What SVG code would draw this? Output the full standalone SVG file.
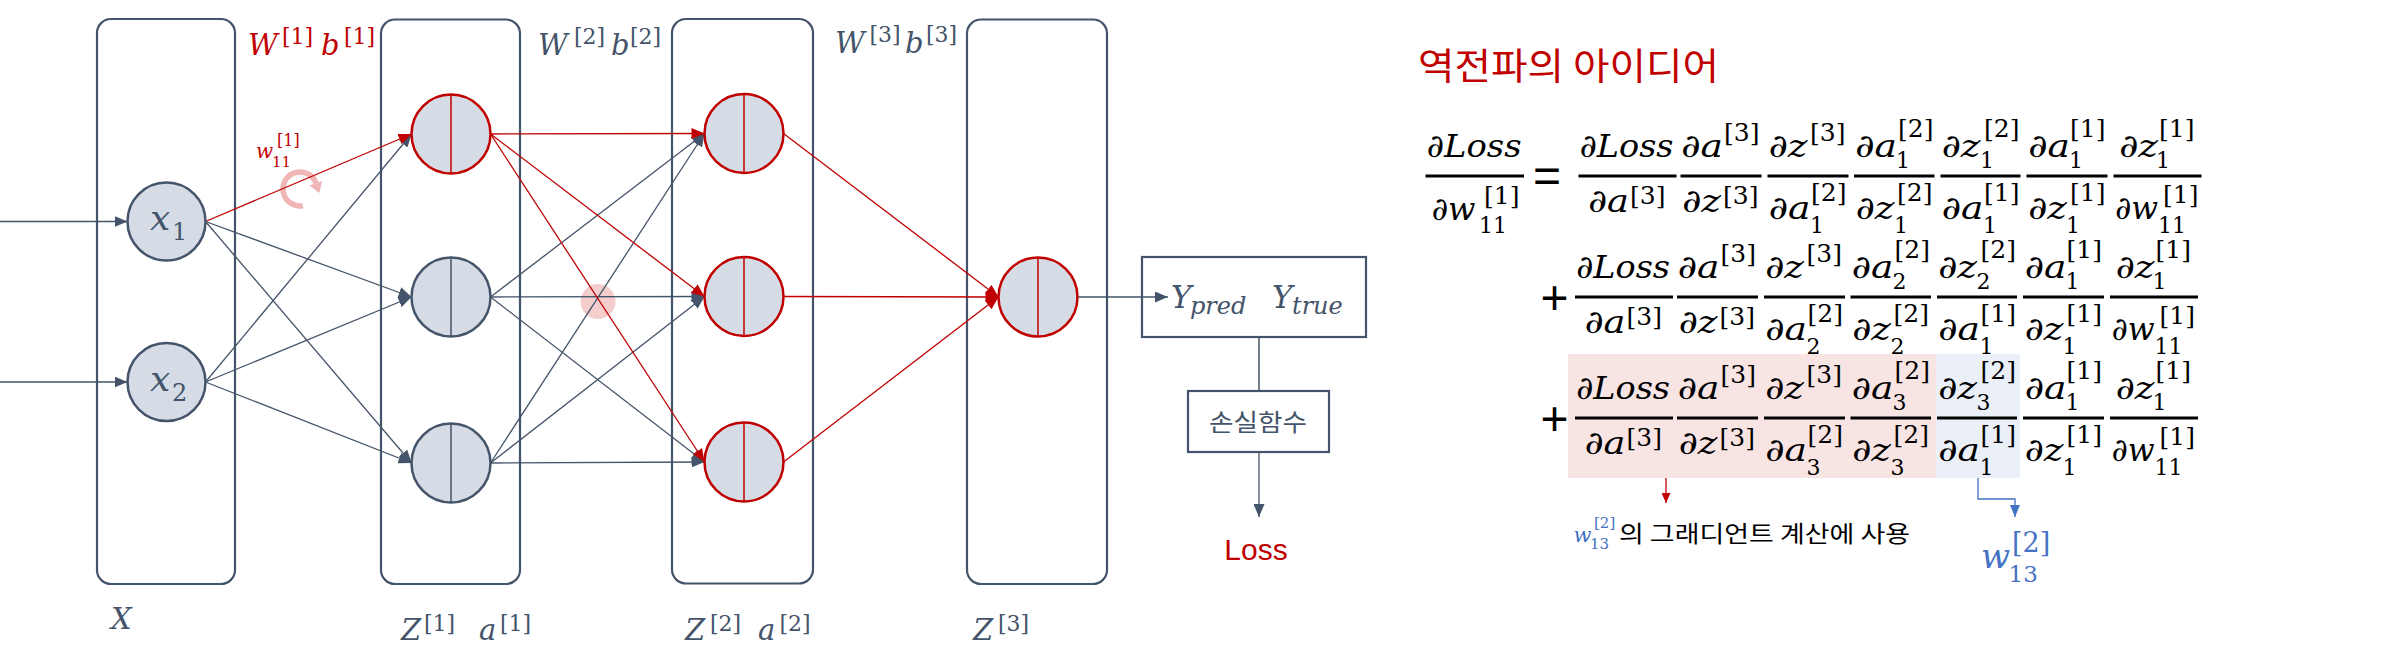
<svg xmlns="http://www.w3.org/2000/svg" width="2402" height="652" viewBox="0 0 2402 652">
<defs>
<style>
.box{fill:none;stroke:#44546a;stroke-width:2.2}
.nd{fill:#d6dce5;stroke:#44546a;stroke-width:2.5}
.nr{fill:#d6dce5;stroke:#c00000;stroke-width:2.5}
.dv{stroke:#44546a;stroke-width:1.5}
.dvr{stroke:#c00000;stroke-width:1.5}
.c{fill:none;stroke:#44546a;stroke-width:1.3;marker-end:url(#ad)}
.r{fill:none;stroke:#c00000;stroke-width:1.3;marker-end:url(#ar)}
.lm{font-family:"DejaVu Serif",serif;font-style:italic;font-size:29px;fill:#44546a}
.ls{font-family:"DejaVu Serif",serif;font-size:22px;fill:#44546a}
.red{fill:#c00000}
.e{font-family:"DejaVu Serif",serif;font-style:italic;font-size:32px;fill:#000}
.es{font-family:"DejaVu Serif",serif;font-size:25px;fill:#000}
.eb{font-family:"DejaVu Serif",serif;font-size:22px;fill:#000}
.bar{stroke:#000;stroke-width:3}
.op{font-family:"Liberation Sans",Arial,sans-serif;font-size:48px;fill:#000;text-anchor:middle}
.kr{font-family:"Noto Sans CJK KR","Noto Sans",sans-serif}
.blue{fill:#4472c4}
</style>
<marker id="ad" markerUnits="userSpaceOnUse" markerWidth="13" markerHeight="11" refX="13" refY="5.5" orient="auto"><path d="M0,0 L13,5.5 L0,11 z" fill="#44546a"/></marker>
<marker id="ar" markerUnits="userSpaceOnUse" markerWidth="13" markerHeight="11" refX="13" refY="5.5" orient="auto"><path d="M0,0 L13,5.5 L0,11 z" fill="#c00000"/></marker>
<marker id="ab" markerUnits="userSpaceOnUse" markerWidth="12" markerHeight="10" refX="12" refY="5" orient="auto"><path d="M0,0 L12,5 L0,10 z" fill="#4472c4"/></marker>
<marker id="ar2" markerUnits="userSpaceOnUse" markerWidth="10" markerHeight="9" refX="10" refY="4.5" orient="auto"><path d="M0,0 L10,4.5 L0,9 z" fill="#c00000"/></marker>
</defs>
<rect width="2402" height="652" fill="#fff"/>

<!-- layer boxes -->
<g id="layer-x"><rect class="box" x="97" y="19" width="138" height="565" rx="14"/></g>
<g id="layer-1"><rect class="box" x="381" y="19.5" width="139" height="564.5" rx="14"/></g>
<g id="layer-2"><rect class="box" x="672" y="19" width="141" height="564.5" rx="14"/></g>
<g id="layer-3"><rect class="box" x="967" y="19.5" width="140" height="564.5" rx="14"/></g>

<!-- decorations -->
<circle cx="598" cy="301.5" r="17.5" fill="#f2c4c4" opacity="0.85"/>
<g id="rotation" opacity="0.85">
<path d="M302.95,205.7 A17,17 0 1 1 316,183.2" fill="none" stroke="#eeaaaa" stroke-width="5.5"/>
<path d="M322.4,180.8 L309.6,185.6 L319.3,193 z" fill="#eeaaaa"/>
</g>

<!-- connectors -->
<g id="connectors">
<path class="c" d="M0,221.5 L127.5,221.5"/>
<path class="c" d="M0,382 L127.5,382"/>
<path class="c" d="M205.5,221.5 L411.5,297"/>
<path class="c" d="M205.5,221.5 L411.5,463"/>
<path class="c" d="M205.5,382 L411.5,134"/>
<path class="c" d="M205.5,382 L411.5,297"/>
<path class="c" d="M205.5,382 L411.5,463"/>
<path class="c" d="M490.5,297 L704.5,133.5"/>
<path class="c" d="M490.5,297 L704.5,296.5"/>
<path class="c" d="M490.5,297 L704.5,462"/>
<path class="c" d="M490.5,463 L704.5,133.5"/>
<path class="c" d="M490.5,463 L704.5,296.5"/>
<path class="c" d="M490.5,463 L704.5,462"/>
<path class="r" d="M205.5,221.5 L411.5,134"/>
<path class="r" d="M490.5,134 L704.5,133.5"/>
<path class="r" d="M490.5,134 L704.5,296.5"/>
<path class="r" d="M490.5,134 L704.5,462"/>
<path class="r" d="M783.5,133.5 L998.5,297"/>
<path class="r" d="M783.5,296.5 L998.5,297"/>
<path class="r" d="M783.5,462 L998.5,297"/>
<path class="c" d="M1077.5,297 L1168,297"/>
<path d="M1259,337 L1259,391" fill="none" stroke="#44546a" stroke-width="1.5"/>
<path class="c" d="M1259,452 L1259,517"/>
<path d="M1666,478 L1666,503" fill="none" stroke="#c00000" stroke-width="1.3" marker-end="url(#ar2)"/>
<path d="M1978,478 L1978,499 L2015,499 L2015,517" fill="none" stroke="#4472c4" stroke-width="1.3" marker-end="url(#ab)"/>
</g>

<!-- nodes -->
<g id="node-x1"><circle class="nd" cx="166.5" cy="221.5" r="39"/><text class="lm" x="150" y="230" style="font-size:36px">x</text><text class="ls" x="172" y="240" style="font-size:24px">1</text></g>
<g id="node-x2"><circle class="nd" cx="166.5" cy="382" r="39"/><text class="lm" x="150" y="391" style="font-size:36px">x</text><text class="ls" x="172" y="401" style="font-size:24px">2</text></g>
<g id="node-11"><circle class="nr" cx="451" cy="134" r="39.5"/><line class="dvr" x1="451" y1="94.5" x2="451" y2="173.5"/></g>
<g id="node-12"><circle class="nd" cx="451" cy="297" r="39.5"/><line class="dv" x1="451" y1="257.5" x2="451" y2="336.5"/></g>
<g id="node-13"><circle class="nd" cx="451" cy="463" r="39.5"/><line class="dv" x1="451" y1="423.5" x2="451" y2="502.5"/></g>
<g id="node-21"><circle class="nr" cx="744" cy="133.5" r="39.5"/><line class="dvr" x1="744" y1="94" x2="744" y2="173"/></g>
<g id="node-22"><circle class="nr" cx="744" cy="296.5" r="39.5"/><line class="dvr" x1="744" y1="257" x2="744" y2="336"/></g>
<g id="node-23"><circle class="nr" cx="744" cy="462" r="39.5"/><line class="dvr" x1="744" y1="422.5" x2="744" y2="501.5"/></g>
<g id="node-out"><circle class="nr" cx="1038" cy="297" r="39.5"/><line class="dvr" x1="1038" y1="257.5" x2="1038" y2="336.5"/></g>

<g id="node-y"><rect class="box" x="1142" y="257" width="224" height="80"/>
<text class="lm" x="1171" y="308" style="font-size:31px">Y</text><text class="lm" x="1190" y="314" style="font-size:24px">pred</text>
<text class="lm" x="1272" y="308" style="font-size:31px">Y</text><text class="lm" x="1292" y="314" style="font-size:24px">true</text></g>
<g id="node-loss-fn"><rect class="box" x="1188" y="391" width="141" height="61"/>
<text class="kr" x="1209" y="431" style="font-size:24px;fill:#44546a" textLength="98" lengthAdjust="spacingAndGlyphs">손실함수</text></g>
<g id="node-loss"><text x="1256" y="560" style="font-family:'Liberation Sans',Arial,sans-serif;font-size:30px;fill:#c00000" text-anchor="middle">Loss</text></g>

<!-- network labels -->
<g id="labels">
<text class="lm red" x="248" y="55">W</text><text class="ls red" x="282" y="44">[1]</text>
<text class="lm red" x="321" y="55">b</text><text class="ls red" x="344" y="44">[1]</text>
<text class="lm" x="538" y="55">W</text><text class="ls" x="574" y="44">[2]</text>
<text class="lm" x="611" y="55">b</text><text class="ls" x="630" y="44">[2]</text>
<text class="lm" x="835" y="53">W</text><text class="ls" x="869.5" y="42">[3]</text>
<text class="lm" x="905" y="53">b</text><text class="ls" x="926" y="42">[3]</text>
<text class="lm red" x="256" y="158" style="font-size:20px">w</text><text class="ls red" x="277" y="146" style="font-size:16px">[1]</text><text class="ls red" x="272" y="167" style="font-size:15px">11</text>
<text class="lm" x="111" y="629">X</text>
<text class="lm" x="401" y="640">Z</text><text class="ls" x="424" y="631">[1]</text>
<text class="lm" x="479" y="640">a</text><text class="ls" x="500" y="631">[1]</text>
<text class="lm" x="685" y="640">Z</text><text class="ls" x="710" y="631">[2]</text>
<text class="lm" x="758" y="640">a</text><text class="ls" x="779.5" y="631">[2]</text>
<text class="lm" x="973" y="640">Z</text><text class="ls" x="998" y="631">[3]</text>
</g>

<!-- right side: equation -->
<g id="equation">
<text class="kr" x="1418" y="80" style="font-size:37px;fill:#c00000" textLength="301" lengthAdjust="spacingAndGlyphs">역전파의 아이디어</text>
<rect x="1568" y="354" width="368" height="124" fill="#f9e4e4"/>
<rect x="1936" y="354" width="84" height="124" fill="#eaeff8"/>

<line class="bar" x1="1425.5" y1="176" x2="1524" y2="176"/>
<text class="e" x="1426.5" y="157" textLength="95" lengthAdjust="spacingAndGlyphs">∂Loss</text>
<text class="e" x="1431.5" y="220" textLength="44" lengthAdjust="spacingAndGlyphs">∂w</text>
<text class="es" x="1484" y="204">[1]</text><text class="eb" x="1479" y="233">11</text>
<text class="op" x="1547" y="192">=</text>

<!-- row 1 -->
<line class="bar" x1="1578.5" y1="176" x2="1676.5" y2="176"/>
<text class="e" x="1579.5" y="157" textLength="94" lengthAdjust="spacingAndGlyphs">∂Loss</text>
<text class="e" x="1588" y="212" textLength="41" lengthAdjust="spacingAndGlyphs">∂a</text><text class="es" x="1630" y="204">[3]</text>
<line class="bar" x1="1680.5" y1="176" x2="1761.5" y2="176"/>
<text class="e" x="1681" y="157" textLength="42" lengthAdjust="spacingAndGlyphs">∂a</text><text class="es" x="1724" y="141">[3]</text>
<text class="e" x="1682" y="212" textLength="39" lengthAdjust="spacingAndGlyphs">∂z</text><text class="es" x="1723" y="204">[3]</text>
<line class="bar" x1="1767.5" y1="176" x2="1848.5" y2="176"/>
<text class="e" x="1768.5" y="157" textLength="39" lengthAdjust="spacingAndGlyphs">∂z</text><text class="es" x="1810" y="141">[3]</text>
<text class="e" x="1768.5" y="219" textLength="42" lengthAdjust="spacingAndGlyphs">∂a</text><text class="es" x="1811" y="201">[2]</text><text class="eb" x="1810" y="233">1</text>
<line class="bar" x1="1854" y1="176" x2="1934.5" y2="176"/>
<text class="e" x="1855" y="157" textLength="42" lengthAdjust="spacingAndGlyphs">∂a</text><text class="es" x="1898" y="137">[2]</text><text class="eb" x="1896" y="168">1</text>
<text class="e" x="1855.5" y="219" textLength="39" lengthAdjust="spacingAndGlyphs">∂z</text><text class="es" x="1897" y="201">[2]</text><text class="eb" x="1894" y="233">1</text>
<line class="bar" x1="1940.5" y1="176" x2="2020.5" y2="176"/>
<text class="e" x="1941.5" y="157" textLength="39" lengthAdjust="spacingAndGlyphs">∂z</text><text class="es" x="1984" y="137">[2]</text><text class="eb" x="1980" y="168">1</text>
<text class="e" x="1941.5" y="219" textLength="42" lengthAdjust="spacingAndGlyphs">∂a</text><text class="es" x="1984" y="201">[1]</text><text class="eb" x="1983" y="233">1</text>
<line class="bar" x1="2026.5" y1="176" x2="2107.5" y2="176"/>
<text class="e" x="2028" y="157" textLength="42" lengthAdjust="spacingAndGlyphs">∂a</text><text class="es" x="2070" y="137">[1]</text><text class="eb" x="2069" y="168">1</text>
<text class="e" x="2028" y="219" textLength="39" lengthAdjust="spacingAndGlyphs">∂z</text><text class="es" x="2070" y="201">[1]</text><text class="eb" x="2066" y="233">1</text>
<line class="bar" x1="2113.5" y1="176" x2="2201.5" y2="176"/>
<text class="e" x="2119" y="157" textLength="39" lengthAdjust="spacingAndGlyphs">∂z</text><text class="es" x="2159" y="137">[1]</text><text class="eb" x="2156" y="168">1</text>
<text class="e" x="2115" y="219" textLength="43" lengthAdjust="spacingAndGlyphs">∂w</text><text class="es" x="2163" y="203">[1]</text><text class="eb" x="2158" y="233">11</text>

<!-- row 2 -->
<text class="op" x="1554.5" y="314">+</text>
<line class="bar" x1="1575" y1="297" x2="1673" y2="297"/>
<text class="e" x="1576" y="278" textLength="94" lengthAdjust="spacingAndGlyphs">∂Loss</text>
<text class="e" x="1584.5" y="333" textLength="41" lengthAdjust="spacingAndGlyphs">∂a</text><text class="es" x="1626.5" y="325">[3]</text>
<line class="bar" x1="1677" y1="297" x2="1758" y2="297"/>
<text class="e" x="1677.5" y="278" textLength="42" lengthAdjust="spacingAndGlyphs">∂a</text><text class="es" x="1720.5" y="262">[3]</text>
<text class="e" x="1678.5" y="333" textLength="39" lengthAdjust="spacingAndGlyphs">∂z</text><text class="es" x="1719.5" y="325">[3]</text>
<line class="bar" x1="1764" y1="297" x2="1845" y2="297"/>
<text class="e" x="1765" y="278" textLength="39" lengthAdjust="spacingAndGlyphs">∂z</text><text class="es" x="1806.5" y="262">[3]</text>
<text class="e" x="1765" y="340" textLength="42" lengthAdjust="spacingAndGlyphs">∂a</text><text class="es" x="1807.5" y="322">[2]</text><text class="eb" x="1806.5" y="354">2</text>
<line class="bar" x1="1850.5" y1="297" x2="1931" y2="297"/>
<text class="e" x="1851.5" y="278" textLength="42" lengthAdjust="spacingAndGlyphs">∂a</text><text class="es" x="1894.5" y="258">[2]</text><text class="eb" x="1892.5" y="289">2</text>
<text class="e" x="1852" y="340" textLength="39" lengthAdjust="spacingAndGlyphs">∂z</text><text class="es" x="1893.5" y="322">[2]</text><text class="eb" x="1890.5" y="354">2</text>
<line class="bar" x1="1937" y1="297" x2="2017" y2="297"/>
<text class="e" x="1938" y="278" textLength="39" lengthAdjust="spacingAndGlyphs">∂z</text><text class="es" x="1980.5" y="258">[2]</text><text class="eb" x="1976.5" y="289">2</text>
<text class="e" x="1938" y="340" textLength="42" lengthAdjust="spacingAndGlyphs">∂a</text><text class="es" x="1980.5" y="322">[1]</text><text class="eb" x="1979.5" y="354">1</text>
<line class="bar" x1="2023" y1="297" x2="2104" y2="297"/>
<text class="e" x="2024.5" y="278" textLength="42" lengthAdjust="spacingAndGlyphs">∂a</text><text class="es" x="2066.5" y="258">[1]</text><text class="eb" x="2065.5" y="289">1</text>
<text class="e" x="2024.5" y="340" textLength="39" lengthAdjust="spacingAndGlyphs">∂z</text><text class="es" x="2066.5" y="322">[1]</text><text class="eb" x="2062.5" y="354">1</text>
<line class="bar" x1="2110" y1="297" x2="2198" y2="297"/>
<text class="e" x="2115.5" y="278" textLength="39" lengthAdjust="spacingAndGlyphs">∂z</text><text class="es" x="2155.5" y="258">[1]</text><text class="eb" x="2152.5" y="289">1</text>
<text class="e" x="2111.5" y="340" textLength="43" lengthAdjust="spacingAndGlyphs">∂w</text><text class="es" x="2159.5" y="324">[1]</text><text class="eb" x="2154.5" y="354">11</text>

<!-- row 3 -->
<text class="op" x="1554.5" y="435">+</text>
<line class="bar" x1="1575" y1="418" x2="1673" y2="418"/>
<text class="e" x="1576" y="399" textLength="94" lengthAdjust="spacingAndGlyphs">∂Loss</text>
<text class="e" x="1584.5" y="454" textLength="41" lengthAdjust="spacingAndGlyphs">∂a</text><text class="es" x="1626.5" y="446">[3]</text>
<line class="bar" x1="1677" y1="418" x2="1758" y2="418"/>
<text class="e" x="1677.5" y="399" textLength="42" lengthAdjust="spacingAndGlyphs">∂a</text><text class="es" x="1720.5" y="383">[3]</text>
<text class="e" x="1678.5" y="454" textLength="39" lengthAdjust="spacingAndGlyphs">∂z</text><text class="es" x="1719.5" y="446">[3]</text>
<line class="bar" x1="1764" y1="418" x2="1845" y2="418"/>
<text class="e" x="1765" y="399" textLength="39" lengthAdjust="spacingAndGlyphs">∂z</text><text class="es" x="1806.5" y="383">[3]</text>
<text class="e" x="1765" y="461" textLength="42" lengthAdjust="spacingAndGlyphs">∂a</text><text class="es" x="1807.5" y="443">[2]</text><text class="eb" x="1806.5" y="475">3</text>
<line class="bar" x1="1850.5" y1="418" x2="1931" y2="418"/>
<text class="e" x="1851.5" y="399" textLength="42" lengthAdjust="spacingAndGlyphs">∂a</text><text class="es" x="1894.5" y="379">[2]</text><text class="eb" x="1892.5" y="410">3</text>
<text class="e" x="1852" y="461" textLength="39" lengthAdjust="spacingAndGlyphs">∂z</text><text class="es" x="1893.5" y="443">[2]</text><text class="eb" x="1890.5" y="475">3</text>
<line class="bar" x1="1937" y1="418" x2="2017" y2="418"/>
<text class="e" x="1938" y="399" textLength="39" lengthAdjust="spacingAndGlyphs">∂z</text><text class="es" x="1980.5" y="379">[2]</text><text class="eb" x="1976.5" y="410">3</text>
<text class="e" x="1938" y="461" textLength="42" lengthAdjust="spacingAndGlyphs">∂a</text><text class="es" x="1980.5" y="443">[1]</text><text class="eb" x="1979.5" y="475">1</text>
<line class="bar" x1="2023" y1="418" x2="2104" y2="418"/>
<text class="e" x="2024.5" y="399" textLength="42" lengthAdjust="spacingAndGlyphs">∂a</text><text class="es" x="2066.5" y="379">[1]</text><text class="eb" x="2065.5" y="410">1</text>
<text class="e" x="2024.5" y="461" textLength="39" lengthAdjust="spacingAndGlyphs">∂z</text><text class="es" x="2066.5" y="443">[1]</text><text class="eb" x="2062.5" y="475">1</text>
<line class="bar" x1="2110" y1="418" x2="2198" y2="418"/>
<text class="e" x="2115.5" y="399" textLength="39" lengthAdjust="spacingAndGlyphs">∂z</text><text class="es" x="2155.5" y="379">[1]</text><text class="eb" x="2152.5" y="410">1</text>
<text class="e" x="2111.5" y="461" textLength="43" lengthAdjust="spacingAndGlyphs">∂w</text><text class="es" x="2159.5" y="445">[1]</text><text class="eb" x="2154.5" y="475">11</text>
</g>

<!-- annotations -->
<g id="annotation-left">
<text class="e blue" x="1573.5" y="542" style="font-size:21px">w</text>
<text class="es blue" x="1594" y="528" style="font-size:15px">[2]</text>
<text class="eb blue" x="1590" y="549" style="font-size:15px">13</text>
<text class="kr" x="1619" y="542" style="font-size:23px;fill:#000" textLength="291" lengthAdjust="spacingAndGlyphs">의 그래디언트 계산에 사용</text>
</g>
<g id="annotation-right">
<text class="e blue" x="1981" y="568" style="font-size:34px">w</text>
<text class="es blue" x="2012" y="552" style="font-size:27px">[2]</text>
<text class="eb blue" x="2008.5" y="582" style="font-size:23px">13</text>
</g>
</svg>
